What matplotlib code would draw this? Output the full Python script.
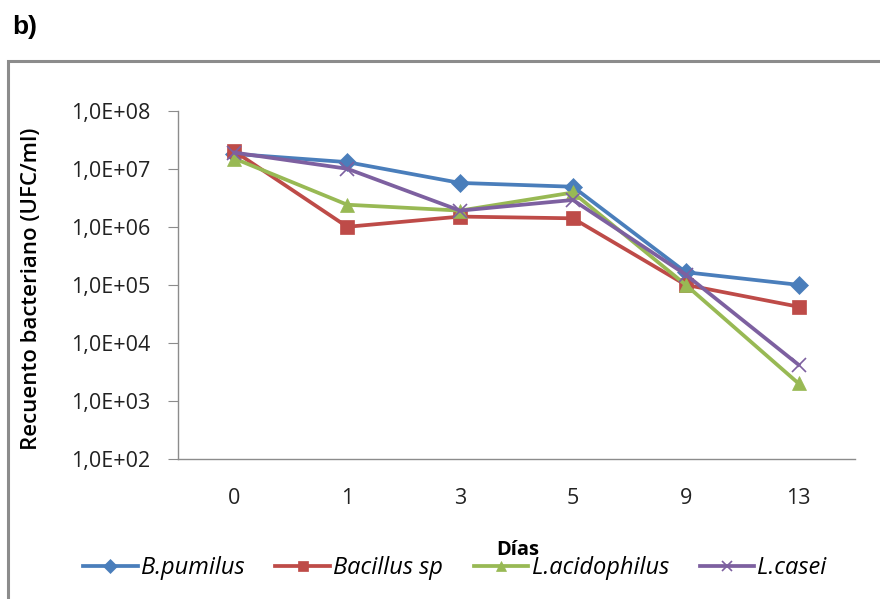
import matplotlib.pyplot as plt
from matplotlib.patches import Rectangle
import numpy as np

plt.rcParams['font.family'] = ['Open Sans', 'DejaVu Sans']

dias = ['0', '1', '3', '5', '9', '13']
b_pumilus = [1.8e7, 1.3e7, 5.7e6, 4.9e6, 1.65e5, 1.0e5]
bacillus_sp = [2.0e7, 1.0e6, 1.5e6, 1.4e6, 1.0e5, 4.2e4]
l_acidophilus = [1.5e7, 2.4e6, 1.9e6, 3.9e6, 1.0e5, 2.0e3]
l_casei = [1.9e7, 1.0e7, 1.9e6, 2.9e6, 1.5e5, 4.2e3]
ytick_labels = ['1,0E+02', '1,0E+03', '1,0E+04', '1,0E+05', '1,0E+06', '1,0E+07', '1,0E+08']

fig = plt.figure(figsize=(8.8, 5.99), dpi=100)

# marco gris del grafico
fig.patches.append(Rectangle((8/880, -0.05), 1.0, 1 - 61/599 + 0.05, transform=fig.transFigure,
                             fill=False, edgecolor='#8c8c8c', linewidth=2.2))
fig.text(12/880, 1 - 27/599, 'b)', fontsize=19, fontweight='bold', family='Liberation Sans',
         va='center', ha='left')

ax = fig.add_axes([178/880, 1 - 459/599, (855 - 178)/880, (459 - 110.7)/599])
x = np.arange(len(dias))
series = [
    (b_pumilus, 'B.pumilus', '#4A7EBB', 'D', 9),
    (bacillus_sp, 'Bacillus sp', '#BE4B48', 's', 10),
    (l_acidophilus, 'L.acidophilus', '#98B954', '^', 10.5),
    (l_casei, 'L.casei', '#7D60A0', 'x', 10),
]
for vals, name, col, mk, ms in series:
    ax.plot(x, vals, color=col, marker=mk, markersize=ms, linewidth=2.7, label=name,
            markeredgewidth=1.2 if mk == 'x' else 0.5, markeredgecolor=col)

ax.set_yscale('log')
ax.set_ylim(1e2, 1e8)
ax.set_xlim(-0.5, 5.5)
ax.set_yticks([10.0**k for k in range(2, 9)])
ax.set_yticklabels(ytick_labels)
ax.minorticks_off()
ax.set_xticks(x)
ax.set_xticklabels(dias)
ax.tick_params(axis='y', length=7, color='#8c8c8c', labelsize=15.5, pad=13, labelcolor='#222222')
ax.tick_params(axis='x', length=0, labelsize=15.5, pad=21, labelcolor='#222222')
for s in ['top', 'right']:
    ax.spines[s].set_visible(False)
for s in ['left', 'bottom']:
    ax.spines[s].set_color('#8c8c8c')
    ax.spines[s].set_linewidth(1.0)

ax.set_ylabel('Recuento bacteriano (UFC/ml)', fontsize=16, fontweight='semibold')
ax.yaxis.set_label_coords(-0.201, 0.49)
fig.text(518/880, 1 - 550/599, 'Días', fontsize=14.5, fontweight='bold', ha='center', va='center')

leg = fig.legend(loc='center', bbox_to_anchor=(455/880, 1 - 568/599), ncol=4, frameon=False,
                 prop={'style': 'italic', 'size': 17}, handlelength=2.3, columnspacing=1.3,
                 handletextpad=0.15, markerscale=0.75)

fig.savefig('out.png', dpi=100)
